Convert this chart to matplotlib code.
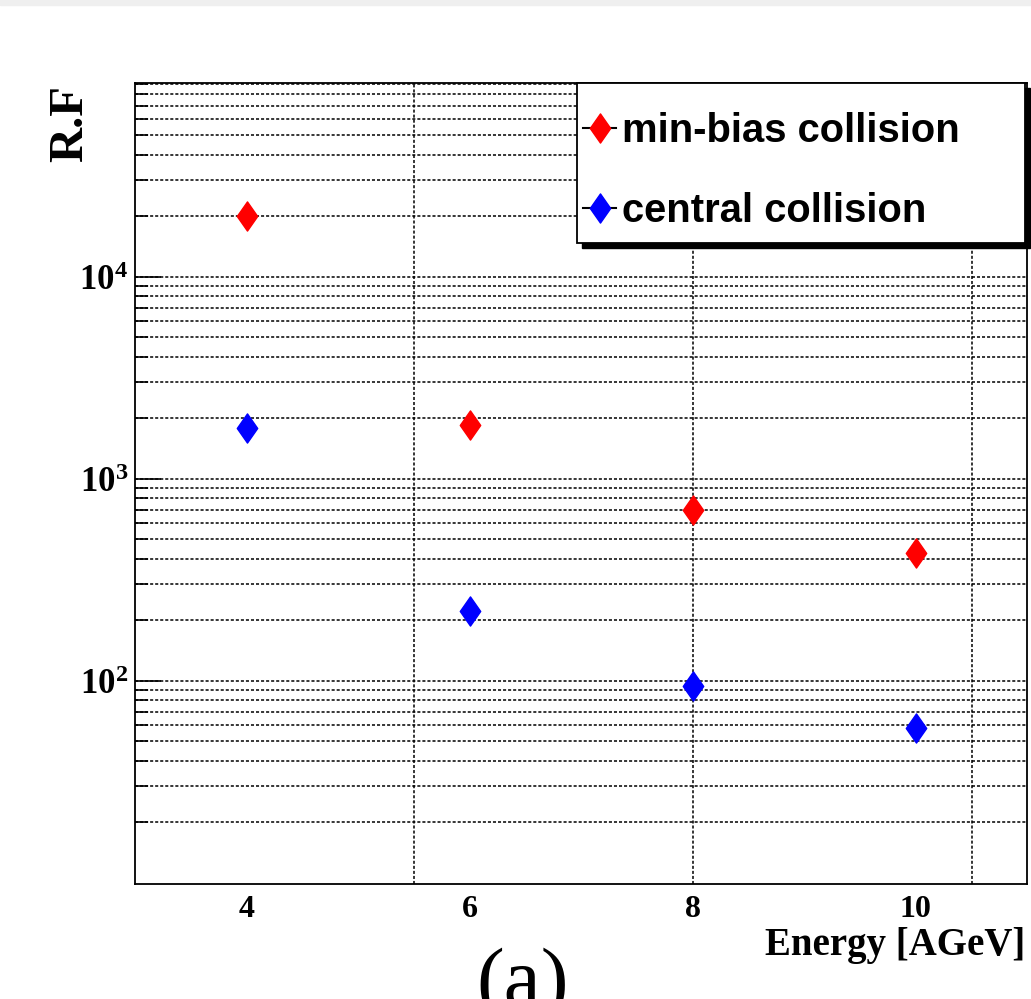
import numpy as np
import matplotlib
matplotlib.use("Agg")
import matplotlib.pyplot as plt
from matplotlib.lines import Line2D
from matplotlib.patches import Rectangle
from matplotlib.path import Path
from matplotlib.ticker import FixedLocator, LogLocator, FuncFormatter, NullFormatter

# values
energy = [4, 6, 8, 10]
minbias_rf = [20000, 1845, 695, 427]
central_rf = [1774, 222, 94, 58]
series_labels = ["min-bias collision", "central collision"]
x_ticks = [4, 6, 8, 10]
x_grid = [5.5, 8, 10.5]
y_major = [1e2, 1e3, 1e4]

plt.rcParams["mathtext.fontset"] = "custom"
plt.rcParams["mathtext.bf"] = "Liberation Serif:bold"
plt.rcParams["mathtext.rm"] = "Liberation Serif:bold"

# ROOT full-diamond marker is a bit fatter than matplotlib's 'd'
diamond = Path([(0, 1), (0.7, 0), (0, -1), (-0.7, 0), (0, 1)],
               [Path.MOVETO, Path.LINETO, Path.LINETO, Path.LINETO, Path.CLOSEPOLY])

fig = plt.figure(figsize=(10.31, 9.99), dpi=100)
ax = fig.add_axes([0.1309, 0.1151, 0.8657, 0.8021])

# thin gray strip at the very top (edge of the previous panel)
fig.patches.append(Rectangle((0, 1 - 5 / 999), 1, 5 / 999, transform=fig.transFigure,
                             color="#efefef", zorder=0))

ax.plot(energy, minbias_rf, ls="none", marker=diamond, ms=21, mew=1,
        color="red", zorder=3)
ax.plot(energy, central_rf, ls="none", marker=diamond, ms=21, mew=1,
        color="blue", zorder=3)

ax.set_yscale("log")
ax.set_xlim(3, 11)
ax.set_ylim(9.85, 9.1e4)

# x axis: labels at even energies, grid at odd spots like the ROOT canvas
ax.xaxis.remove_overlapping_locs = False
ax.set_xticks(x_ticks)
ax.set_xticks(x_grid, minor=True)
ax.tick_params(axis="x", which="both", length=0, pad=8)
for lab in ax.get_xticklabels():
    lab.set_fontfamily("Liberation Serif")
    lab.set_fontweight("bold")
    lab.set_fontsize(23)

ax.yaxis.set_major_locator(FixedLocator(y_major))
ax.yaxis.set_minor_locator(LogLocator(base=10, subs=np.arange(2, 10)))
ax.yaxis.set_major_formatter(FuncFormatter(
    lambda v, p: r"$\mathbf{10^{%d}}$" % round(np.log10(v))))
ax.yaxis.set_minor_formatter(NullFormatter())
ax.tick_params(axis="y", which="major", direction="in", length=18.7, width=1.2,
               labelsize=25, pad=5)
ax.tick_params(axis="y", which="minor", direction="in", length=9.4, width=1.2)

dots = (0, (2.0, 1.3))
ax.yaxis.grid(True, which="both", color="k", ls=dots, lw=1.1)
ax.xaxis.grid(True, which="minor", color="k", ls=dots, lw=1.1)
ax.xaxis.grid(False, which="major")
ax.set_axisbelow(True)

for s in ax.spines.values():
    s.set_linewidth(1.3)

# legend box drawn by hand (ROOT style: square frame, hard black shadow)
box_x0, box_y0, box_w, box_h = 0.4952, 0.7996, 0.502, 0.2004
ax.add_patch(Rectangle((box_x0 + 0.0056, box_y0 - 0.0062), box_w, box_h,
                       transform=ax.transAxes, color="k", clip_on=False, zorder=5))
ax.add_patch(Rectangle((box_x0, box_y0), box_w, box_h, transform=ax.transAxes,
                       facecolor="white", edgecolor="k", lw=1.3, clip_on=False,
                       zorder=5.5))

handles = [
    Line2D([0], [0], color="k", lw=1.5, marker=diamond, ms=21, mew=1,
           mfc="red", mec="red"),
    Line2D([0], [0], color="k", lw=1.5, marker=diamond, ms=21, mew=1,
           mfc="blue", mec="blue"),
]
leg = ax.legend(handles, series_labels, loc="upper left",
                bbox_to_anchor=(0.502, 0.963), frameon=False,
                borderaxespad=0, borderpad=0, handlelength=0.83,
                handletextpad=0.15, labelspacing=1.05,
                prop={"family": "Liberation Sans", "weight": "bold", "size": 28.8})
leg.set_zorder(6)

fig.text(0.068, 1 - 85 / 999, "R.F", rotation=90, ha="center", va="top",
         family="Liberation Serif", weight="bold", size=35)
fig.text(1025 / 1031, 1 - 955 / 999, "Energy [AGeV]", ha="right", va="baseline",
         family="Liberation Serif", weight="bold", size=28)
fig.text(523 / 1031, 1 - 1005 / 999, "(a)", ha="center", va="baseline",
         family="Liberation Serif", size=60)

fig.savefig("out.png", dpi=100)
